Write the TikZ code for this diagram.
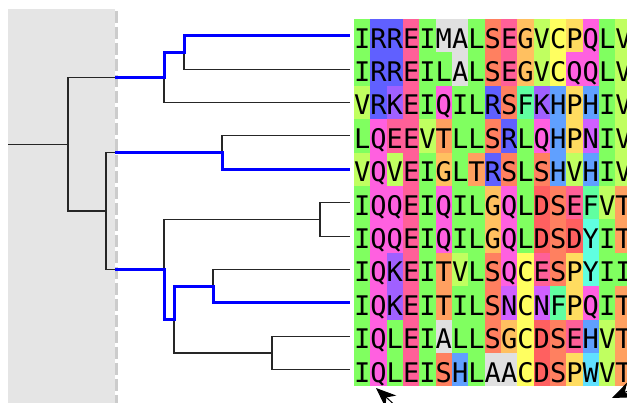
\documentclass[tikz,border=0pt]{standalone}
\usepackage{fontspec}
\newfontfamily\seqfont{DejaVu Sans Mono}
\usetikzlibrary{arrows.meta}

% residue colours
\definecolor{aaI}{HTML}{80FF60}
\definecolor{aaL}{HTML}{80FF60}
\definecolor{aaV}{HTML}{C0FF60}
\definecolor{aaM}{HTML}{E0E0E0}
\definecolor{aaA}{HTML}{E0E0E0}
\definecolor{aaR}{HTML}{6060FF}
\definecolor{aaK}{HTML}{A060FF}
\definecolor{aaN}{HTML}{D060FF}
\definecolor{aaQ}{HTML}{FF60E0}
\definecolor{aaE}{HTML}{FF6098}
\definecolor{aaD}{HTML}{FF6060}
\definecolor{aaS}{HTML}{FF8060}
\definecolor{aaT}{HTML}{FFA060}
\definecolor{aaG}{HTML}{FFC060}
\definecolor{aaP}{HTML}{FFDC60}
\definecolor{aaC}{HTML}{FFFF60}
\definecolor{aaH}{HTML}{60A0FF}
\definecolor{aaF}{HTML}{60FFA0}
\definecolor{aaY}{HTML}{60FFE0}
\definecolor{aaW}{HTML}{60E0FF}
\definecolor{treebg}{HTML}{E5E5E5}
\definecolor{dashgray}{HTML}{CCCCCC}

\begin{document}
\begin{tikzpicture}[x=1pt,y=-1pt,
    branch/.style={black!85, line width=1.1pt},
    hilite/.style={blue, line width=3pt},
    pointer/.style={line width=1pt, -{Stealth[length=20pt,width=16pt,inset=6pt]}},
    cell/.style={inner sep=0pt, minimum width=16.33pt, minimum height=33.4pt,
        text height=25pt, text depth=0pt,
        font=\seqfont\fontsize{27}{27}\selectfont}]
    \useasboundingbox (0,0) rectangle (627,403);

    % Shaded region and its border
    \fill[treebg] (8,9) rectangle (115,403);
    \draw[dashgray, line width=3pt, dash pattern=on 12pt off 4pt] (116.5,11) -- (116.5,403);

    % Leaves and inner nodes of the tree
    \foreach \i in {1,...,11} {
        \coordinate (l\i) at (350,{2.3+33.4*\i});
    }
    \coordinate (n2) at (184,52.4);
    \coordinate (n1) at (164,77.4);
    \coordinate (n4) at (222,152.6);
    \coordinate (n6) at (320,219.4);
    \coordinate (n8) at (213,286.2);
    \coordinate (n9) at (272,353);
    \coordinate (n7) at (174,319.6);
    \coordinate (n5) at (164,269.5);
    \coordinate (n3) at (106,211);
    \coordinate (root) at (68,144.2);
    \coordinate (stem) at (8,144.2);
    \coordinate (edge) at (115,0);

    % Draw branches
    \draw[branch] (stem) -- (root);
    \draw[branch] (root) |- (n1);
    \draw[branch] (root) |- (n3);
    \draw[branch] (n1) |- (n2);
    \draw[branch] (n1) |- (l3);
    \draw[branch] (n2) |- (l1);
    \draw[branch] (n2) |- (l2);
    \draw[branch] (n3) |- (n4);
    \draw[branch] (n3) |- (n5);
    \draw[branch] (n4) |- (l4);
    \draw[branch] (n4) |- (l5);
    \draw[branch] (n5) |- (n6);
    \draw[branch] (n5) |- (n7);
    \draw[branch] (n6) |- (l6);
    \draw[branch] (n6) |- (l7);
    \draw[branch] (n7) |- (n8);
    \draw[branch] (n7) |- (n9);
    \draw[branch] (n8) |- (l8);
    \draw[branch] (n8) |- (l9);
    \draw[branch] (n9) |- (l10);
    \draw[branch] (n9) |- (l11);

    % Highlighted paths
    \draw[hilite] (edge |- n1) -- (n1) |- (n2) |- (l1);
    \draw[hilite] (edge |- n4) -- (n4) |- (l5);
    \draw[hilite] (edge |- n5) -- (n5) |- (n7) |- (n8) |- (l9);

    % Alignment
    \begin{scope}
        \clip (354,0) rectangle (627,403);
        \foreach \seq [count=\r from 0] in {
            {I,R,R,E,I,M,A,L,S,E,G,V,C,P,Q,L,V},
            {I,R,R,E,I,L,A,L,S,E,G,V,C,Q,Q,L,V},
            {V,R,K,E,I,Q,I,L,R,S,F,K,H,P,H,I,V},
            {L,Q,E,E,V,T,L,L,S,R,L,Q,H,P,N,I,V},
            {V,Q,V,E,I,G,L,T,R,S,L,S,H,V,H,I,V},
            {I,Q,Q,E,I,Q,I,L,G,Q,L,D,S,E,F,V,T},
            {I,Q,Q,E,I,Q,I,L,G,Q,L,D,S,D,Y,I,T},
            {I,Q,K,E,I,T,V,L,S,Q,C,E,S,P,Y,I,I},
            {I,Q,K,E,I,T,I,L,S,N,C,N,F,P,Q,I,T},
            {I,Q,L,E,I,A,L,L,S,G,C,D,S,E,H,V,T},
            {I,Q,L,E,I,S,H,L,A,A,C,D,S,P,W,V,T}} {
            \foreach \aa [count=\c from 0] in \seq {
                \node[cell, fill=aa\aa] (aa-\r-\c) at ({362.2+16.33*\c},{35.7+33.4*\r}) {\aa};
            }
        }
    \end{scope}

    % Pointers below the alignment
    \coordinate (p1tail) at (398,408);
    \coordinate (p1tip) at (376,388);
    \coordinate (p2tail) at (646,383);
    \coordinate (p2tip) at (612,398);
    \draw[pointer] (p1tail) -- (p1tip);
    \draw[pointer] (p2tail) -- (p2tip);
\end{tikzpicture}
\end{document}
